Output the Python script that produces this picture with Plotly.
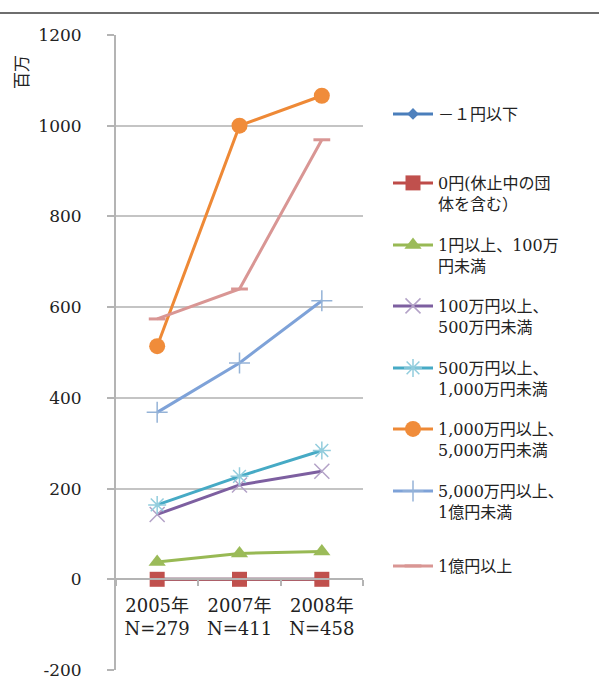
import plotly.graph_objects as go

# ---- data ----
categories = ["2005年<br>N=279", "2007年<br>N=411", "2008年<br>N=458"]
series_names = [
    "－１円以下",
    "0円(休止中の団<br>体を含む）",
    "1円以上、100万<br>円未満",
    "100万円以上、<br>500万円未満",
    "500万円以上、<br>1,000万円未満",
    "1,000万円以上、<br>5,000万円未満",
    "5,000万円以上、<br>1億円未満",
    "1億円以上",
]
v_minus1 = [0, 0, 0]
v_zero = [0, 0, 0]
v_1_100 = [38, 57, 61]
v_100_500 = [143, 208, 238]
v_500_1000 = [164, 227, 284]
v_1000_5000 = [514, 1000, 1066]
v_5000_1oku = [368, 477, 614]
v_1oku = [574, 640, 969]
y_ticks = [-200, 0, 200, 400, 600, 800, 1000, 1200]

series_values = [v_minus1, v_zero, v_1_100, v_100_500, v_500_1000,
                 v_1000_5000, v_5000_1oku, v_1oku]

# ---- styles ----
W, H = 599, 687
ML, MR, MT, MB = 116, 236, 35, 17
PW, PH = W - ML - MR, H - MT - MB

styles = [
    dict(color="#4A7EBB", symbol="diamond", size=9, mcolor="#4F81BD", mline=0),
    dict(color="#BE4B48", symbol="square", size=15, mcolor="#C0504D", mline=0),
    dict(color="#98B954", symbol="triangle-up", size=15, mcolor="#9BBB59", mline=0),
    dict(color="#7D5FA0", symbol="x-thin", size=15, mcolor="#B3A2C7", mline=1.5),
    dict(color="#46AAC5", symbol="asterisk", size=15, mcolor="#93CDDD", mline=1.5),
    dict(color="#EE8936", symbol="circle", size=16, mcolor="#F08C3A", mline=0),
    dict(color="#7EA2D8", symbol="cross-thin", size=15, mcolor="#95B3D7", mline=1.5),
    dict(color="#D99694", symbol="line-ew", size=12, mcolor="#D99694", mline=3),
]

FONT = "DejaVu Serif, Noto Sans CJK JP, serif"
legend_centers = [110, 179, 241, 302, 364, 425, 487, 562]

fig = go.Figure()
layout_legends = {}
for i, (name, vals, st) in enumerate(zip(series_names, series_values, styles)):
    lname = "legend" if i == 0 else f"legend{i+1}"
    marker = dict(symbol=st["symbol"], size=st["size"], color=st["mcolor"])
    if st["mline"]:
        marker["line"] = dict(color=st["mcolor"], width=st["mline"])
    else:
        marker["line"] = dict(width=0)
    fig.add_trace(go.Scatter(
        x=categories, y=vals, name=name, mode="lines+markers",
        line=dict(color=st["color"], width=3), marker=marker,
        legend=lname,
    ))
    c = legend_centers[i]
    layout_legends[lname] = dict(
        x=(388 - ML) / PW, xanchor="left",
        y=(H - MB - (c - 13)) / PH, yanchor="top",
        valign="top", bgcolor="rgba(0,0,0,0)",
        font=dict(family=FONT, size=16, color="#222"),
        itemwidth=40, tracegroupgap=0,
    )

fig.update_layout(
    width=W, height=H,
    margin=dict(l=ML, r=MR, t=MT, b=MB, autoexpand=False),
    paper_bgcolor="white", plot_bgcolor="white",
    showlegend=True,
    **layout_legends,
)

axis_gray = "#b4b4b4"
fig.update_yaxes(
    range=[-200, 1200], tickvals=y_ticks, ticktext=[str(t) for t in y_ticks],
    showline=True, linecolor=axis_gray, linewidth=2,
    ticks="outside", ticklen=7, tickwidth=2, tickcolor=axis_gray,
    showgrid=True, gridcolor="#c4c4c4", gridwidth=2, zeroline=False,
    tickfont=dict(family=FONT, size=17, color="#222"),
    ticklabelstandoff=22, automargin=False,
)
fig.update_xaxes(
    type="category", range=[-0.5, 2.5],
    anchor="free", position=200 / 1400,
    showline=True, linecolor=axis_gray, linewidth=2,
    ticks="outside", tickson="boundaries", ticklen=6, tickwidth=2, tickcolor=axis_gray,
    showgrid=False, zeroline=False,
    tickfont=dict(family=FONT, size=18, color="#222"),
    ticklabelstandoff=10, automargin=False,
)

# y-axis unit label
fig.add_annotation(
    text="百万", textangle=-90, showarrow=False,
    xref="paper", yref="paper",
    x=(22 - ML) / PW, y=(H - MB - 72) / PH,
    xanchor="center", yanchor="middle",
    font=dict(family=FONT, size=17, color="#222"),
)
# top rule
fig.add_shape(
    type="line", xref="paper", yref="paper",
    x0=-ML / PW, x1=(W - ML) / PW,
    y0=(H - MB - 13) / PH, y1=(H - MB - 13) / PH,
    line=dict(color="#6e6e6e", width=2),
    layer="above",
)

fig.write_html("out.html", config={"displayModeBar": False},
               post_script="document.body.style.margin='0';")
